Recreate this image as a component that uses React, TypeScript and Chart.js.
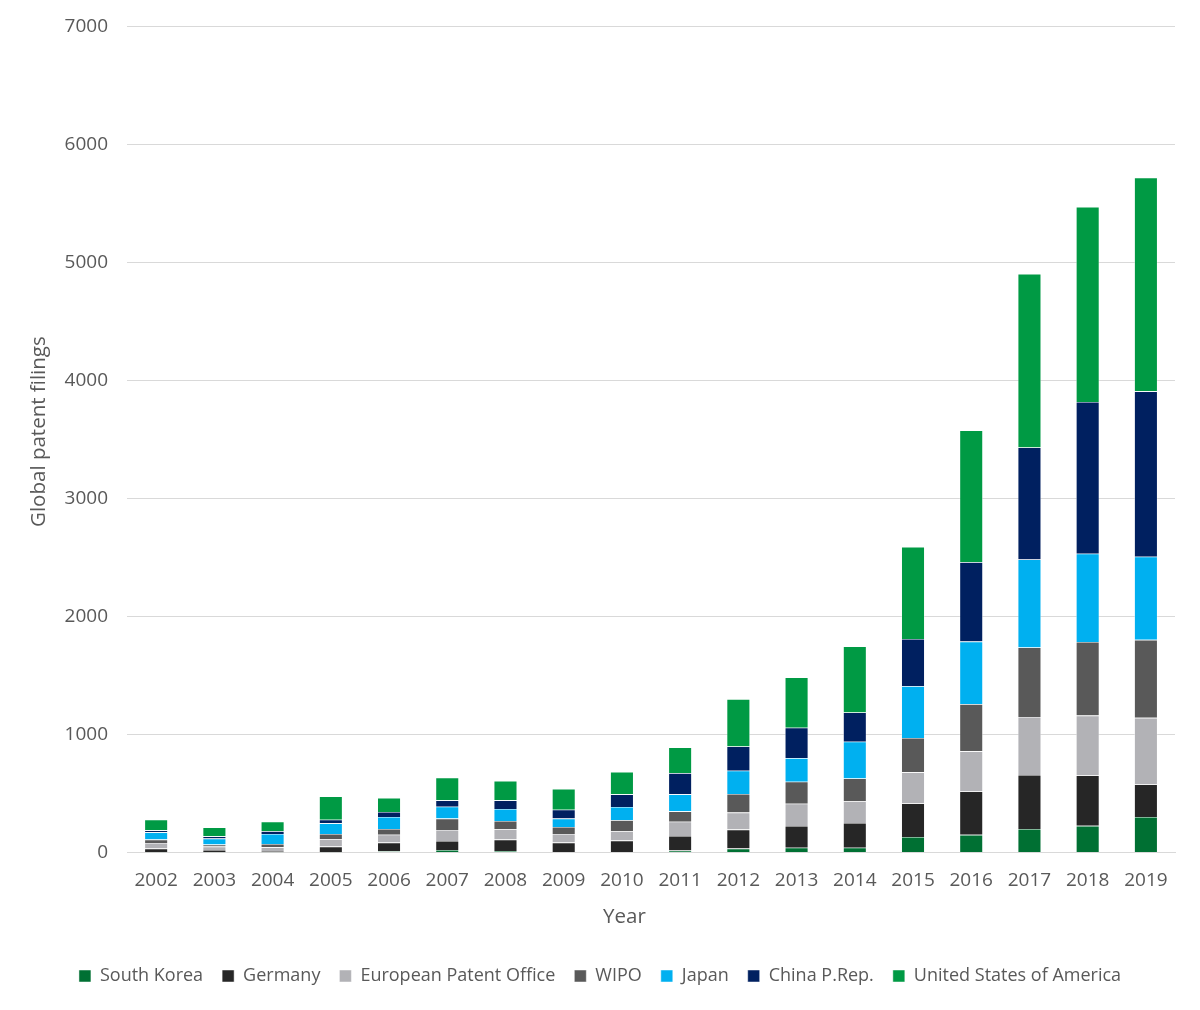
import React, { useEffect, useRef } from "react";
import Chart from "chart.js/auto";

const years = [
  "2002", "2003", "2004", "2005", "2006", "2007", "2008", "2009", "2010",
  "2011", "2012", "2013", "2014", "2015", "2016", "2017", "2018", "2019",
];

const southKorea = [3, 2, 2, 3, 11, 23, 14, 5, 5, 17, 34, 42, 42, 132, 151, 200, 227, 302];
const germany = [31, 21, 12, 48, 74, 76, 96, 80, 97, 124, 161, 184, 209, 284, 367, 458, 427, 276];
const epo = [48, 28, 31, 62, 67, 93, 88, 73, 79, 121, 144, 189, 184, 264, 340, 491, 507, 564];
const wipo = [28, 17, 28, 45, 48, 96, 70, 59, 93, 88, 158, 186, 194, 292, 401, 590, 624, 661];
const japan = [62, 51, 85, 90, 102, 101, 102, 71, 113, 144, 197, 200, 311, 438, 529, 745, 748, 704];
const china = [17, 19, 23, 31, 42, 54, 73, 76, 107, 180, 206, 257, 248, 401, 673, 949, 1286, 1402];
const usa = [90, 76, 81, 198, 119, 192, 164, 175, 189, 218, 401, 426, 559, 779, 1116, 1471, 1652, 1811];

const yTicks = [0, 1000, 2000, 3000, 4000, 5000, 6000, 7000];

const FONT = "'Open Sans', 'Noto Sans', sans-serif";
const TEXT = "#595959";

const App: React.FC = () => {
  const canvasRef = useRef<HTMLCanvasElement | null>(null);
  const chartRef = useRef<Chart | null>(null);

  useEffect(() => {
    document.body.style.margin = "0";
    if (!canvasRef.current) return;
    if (chartRef.current) chartRef.current.destroy();

    const ds = (label: string, data: number[], color: string) => ({
      label,
      data,
      backgroundColor: color,
      borderColor: "rgba(255,255,255,0.8)",
      borderWidth: 0.6,
      categoryPercentage: 1,
      barPercentage: 0.4,
    });

    chartRef.current = new Chart(canvasRef.current, {
      type: "bar",
      data: {
        labels: years,
        datasets: [
          ds("South Korea", southKorea, "#007033"),
          ds("Germany", germany, "#262626"),
          ds("European Patent Office", epo, "#b2b2b6"),
          ds("WIPO", wipo, "#595959"),
          ds("Japan", japan, "#00b0f0"),
          ds("China P.Rep.", china, "#002060"),
          ds("United States of America", usa, "#009a44"),
        ],
      },
      options: {
        responsive: true,
        maintainAspectRatio: false,
        animation: false,
        layout: { padding: { top: 3, right: 25, left: 25, bottom: 15 } },
        plugins: {
          tooltip: { enabled: false },
          legend: {
            position: "bottom",
            labels: {
              boxWidth: 12,
              boxHeight: 12,
              padding: 19,
              color: TEXT,
              font: { family: FONT, size: 18 },
            },
          },
        },
        scales: {
          x: {
            stacked: true,
            grid: { display: false },
            border: { color: "#d9d9d9" },
            ticks: { color: TEXT, font: { family: FONT, size: 19 }, padding: 9 },
            title: {
              display: true,
              // trailing spaces nudge the title left, as in the original
              text: "Year          ",
              color: TEXT,
              font: { family: FONT, size: 20.5 },
              padding: { top: 3, bottom: 19 },
            },
          },
          y: {
            stacked: true,
            min: 0,
            max: 7000,
            afterBuildTicks: (axis) => {
              axis.ticks = yTicks.map((v) => ({ value: v }));
            },
            grid: { color: "#d9d9d9", drawTicks: false },
            border: { display: false },
            ticks: {
              color: TEXT,
              font: { family: FONT, size: 19, lineHeight: 0.8 },
              padding: 19,
              callback: (v) => String(v),
            },
            title: {
              display: true,
              text: "   Global patent filings",
              color: TEXT,
              font: { family: FONT, size: 20.5 },
              padding: { top: 2, bottom: -6 },
            },
          },
        },
      },
    });

    return () => {
      if (chartRef.current) {
        chartRef.current.destroy();
        chartRef.current = null;
      }
    };
  }, []);

  return (
    <div style={{ width: 1200, height: 1010, position: "relative", background: "#fff" }}>
      <canvas ref={canvasRef} />
    </div>
  );
};

export default App;
